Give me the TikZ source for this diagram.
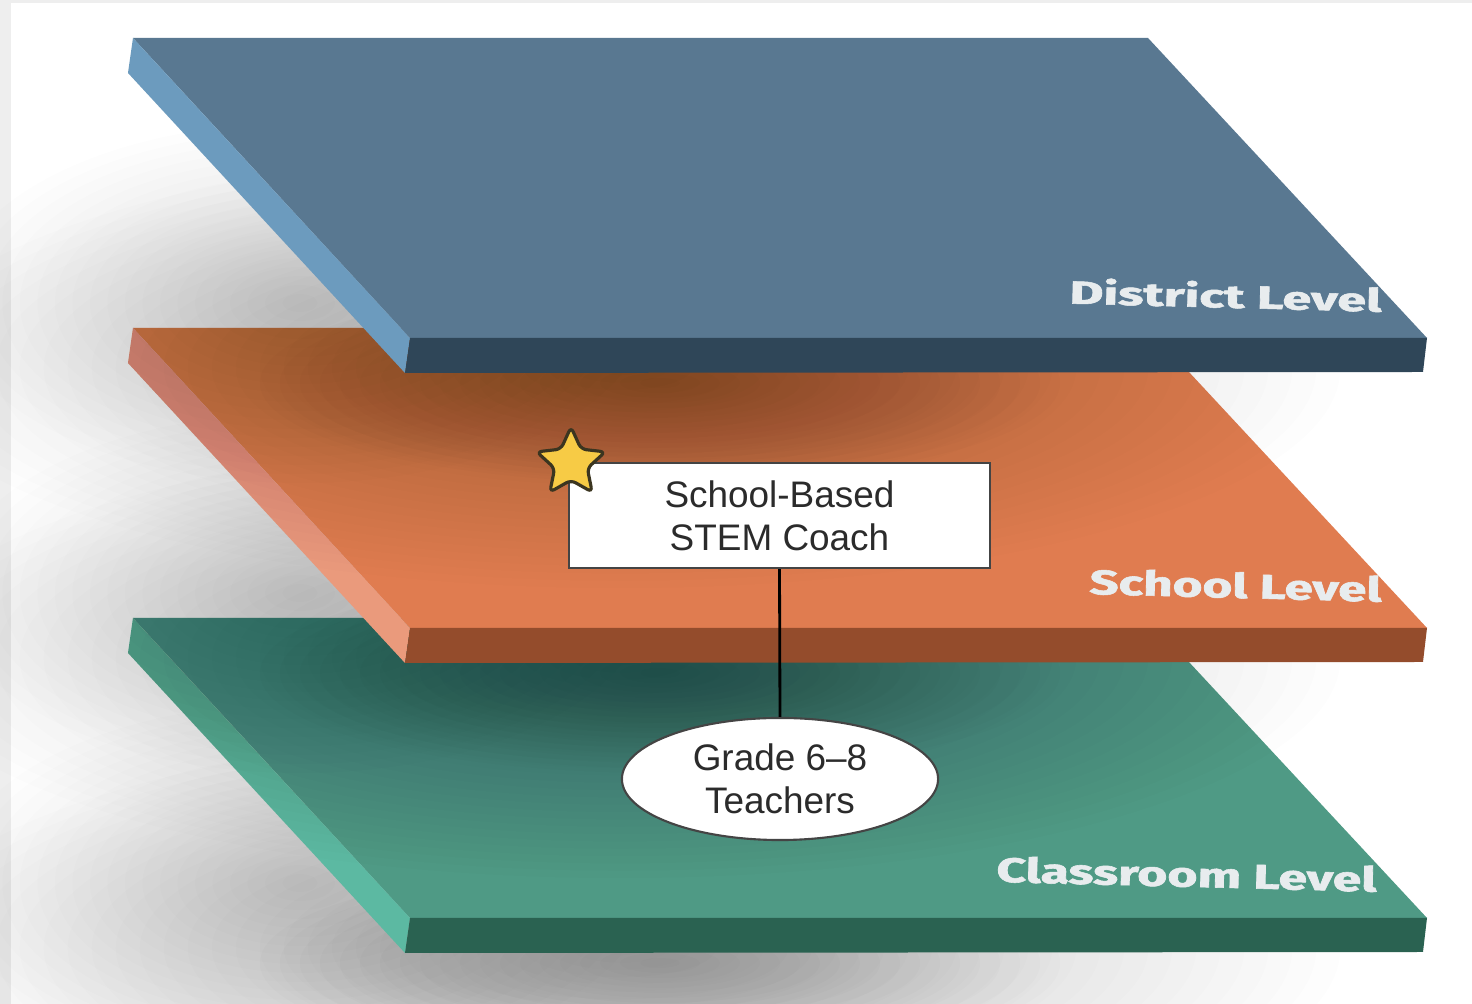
\documentclass[tikz,border=0pt]{standalone}
\usepackage{fontspec}
\usepackage{graphicx}
\setmainfont{Liberation Sans}
\newfontfamily\levelfont{Fira Sans}[BoldFeatures={FakeBold=1.6}]
\usetikzlibrary{shapes.geometric}

\definecolor{framegray}{HTML}{EEEEEE}
\definecolor{distTop}{HTML}{597891}
\definecolor{distSide}{HTML}{6C9BBE}
\definecolor{distFront}{HTML}{2F4658}
\definecolor{schoolTop}{HTML}{E07C50}
\definecolor{schoolSide}{HTML}{EA9A7C}
\definecolor{schoolFront}{HTML}{944C2C}
\definecolor{classTop}{HTML}{4F9A85}
\definecolor{classSide}{HTML}{5CB9A2}
\definecolor{classFront}{HTML}{2A6251}
\definecolor{labelwhite}{HTML}{E8ECEE}
\definecolor{inkgray}{HTML}{2B2B2B}
\definecolor{edgegray}{HTML}{444444}
\definecolor{starfill}{HTML}{F7CB45}
\definecolor{staredge}{HTML}{3B3520}

\tikzset{
  levelname/.style={anchor=south east, rotate=-1.5, text=labelwhite, inner sep=0pt},
  rolebox/.style={draw=edgegray, line width=0.6pt, fill=white, align=center,
    text=inkgray, font=\fontsize{10.5}{12.2}\selectfont},
}

\begin{document}
\begin{tikzpicture}[x=0.01cm,y=-0.01cm]
  \useasboundingbox (0,0) rectangle (1472,1004);

  % Page with thin grey frame
  \fill[framegray] (0,0) rectangle (1472,1004);
  \fill[white] (11,3) rectangle (1472,1004);

  % Slabs, bottom one first: soft shadow, top face, left side, front edge, name
  \foreach \b/\ctop/\cside/\cfront/\txt/\tw/\tx in
    {618/classTop/classSide/classFront/Classroom Level/3.80cm/1377,
     328/schoolTop/schoolSide/schoolFront/School Level/2.92cm/1382,
     38/distTop/distSide/distFront/District Level/3.12cm/1382}{
    \foreach \k in {1,...,30}
      \fill[black, opacity=0.0095] (620,\b+330) ellipse ({7.2cm*\k/30} and {2.2cm*\k/30});
    \foreach \k in {1,...,20}
      \fill[black, opacity=0.008] (300,\b+265) ellipse ({3.5cm*\k/20} and {1.8cm*\k/20});
    \foreach \k in {1,...,20}
      \fill[black, opacity=0.01] (660,\b+345) ellipse ({4cm*\k/20} and {1cm*\k/20});
    \fill[\ctop] (133,\b) -- (1148,\b) -- (1427,\b+300) -- (410,\b+300) -- cycle;
    \fill[\cside] (133,\b) -- (410,\b+300) -- (405,\b+335) -- (128,\b+35) -- cycle;
    \fill[\cfront] (410,\b+300) -- (1427,\b+300) -- (1423,\b+334) -- (405,\b+335) -- cycle;
    \node[levelname] (lbl\b) at (\tx,\b+275)
      {\resizebox{\tw}{0.26cm}{\levelfont\bfseries \txt}};
  }

  % Coach box on the school level, teachers below it
  \node[rolebox, minimum width=4.21cm, minimum height=1.05cm] (coach)
    at (779.5,515.5) {School-Based\\STEM Coach};
  \node[rolebox, ellipse, inner sep=0pt, minimum width=3.16cm, minimum height=1.22cm]
    (teachers) at (780,779) {Grade 6--8\\Teachers};
  \draw[line width=0.8pt] (coach.south) -- (teachers.north);

  % Star on the box corner
  \node[star, star points=5, star point ratio=2.1, minimum size=0.72cm, inner sep=0pt,
    fill=starfill, draw=staredge, line width=0.9pt, rounded corners=1.5pt]
    (badge) at (571,463) {};

\end{tikzpicture}
\end{document}
